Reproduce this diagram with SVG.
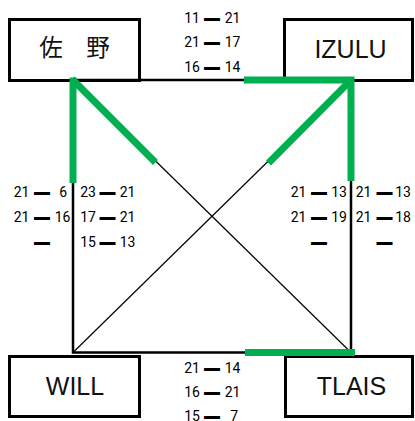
<svg xmlns="http://www.w3.org/2000/svg" width="415" height="421" viewBox="0 0 415 421">
<style>
.box{fill:#fff;stroke:#000;stroke-width:3}
.name{font-family:"Liberation Sans",Arial,sans-serif;font-size:25px;fill:#111;text-anchor:middle}
.cjk{font-family:"Noto Sans CJK JP","Noto Sans CJK SC",sans-serif;font-size:23.5px;fill:#111;text-anchor:middle}
.sc{font-family:Roboto,"Liberation Sans",sans-serif;font-size:14px;fill:#000}
.e{text-anchor:end}
.d{font-family:"Liberation Sans",Arial,sans-serif;font-size:14px;stroke:#000;stroke-width:2;text-anchor:start}
.side{fill:none;stroke:#000;stroke-width:2.5}
.diag{fill:none;stroke:#000;stroke-width:1.2}
.g{fill:none;stroke:#00b050;stroke-width:7;stroke-linejoin:miter}
</style>
<g id="node-sano">
<rect class="box" x="9.5" y="19.5" width="130" height="61"/>
<text class="cjk" x="74.5" y="56">佐　野</text>
</g>
<g id="node-izulu">
<rect class="box" x="284.5" y="19.5" width="128" height="61"/>
<text class="name" x="350.5" y="57.5">IZULU</text>
</g>
<g id="node-will">
<rect class="box" x="9.5" y="356.5" width="130" height="60"/>
<text class="name" x="75" y="395">WILL</text>
</g>
<g id="node-tlais">
<rect class="box" x="285.5" y="356.5" width="127" height="60"/>
<text class="name" x="351.5" y="395">TLAIS</text>
</g>
<g id="connectors">
<path class="side" d="M73,80 H351 V352.5 H73 Z"/>
<line class="diag" x1="73" y1="80" x2="351" y2="352.5"/>
<line class="diag" x1="73" y1="352.5" x2="351" y2="80"/>
<line class="g" x1="73" y1="183" x2="73" y2="77.5"/>
<line class="g" x1="72" y1="79" x2="155.5" y2="162.5"/>
<polyline class="g" points="244,80 351,80 351,181"/>
<line class="g" x1="352" y1="79" x2="268.5" y2="163"/>
<line class="g" x1="245" y1="352.5" x2="355" y2="352.5"/>
</g>
<g id="scores-top" class="sc">
<text y="22.5"><tspan class="e" x="200">11</tspan><tspan class="d" x="205">—</tspan><tspan class="e" x="240.5">21</tspan></text>
<text y="47"><tspan class="e" x="200">21</tspan><tspan class="d" x="205">—</tspan><tspan class="e" x="240.5">17</tspan></text>
<text y="71.5"><tspan class="e" x="200">16</tspan><tspan class="d" x="205">—</tspan><tspan class="e" x="240.5">14</tspan></text>
</g>
<g id="scores-left" class="sc">
<text y="197"><tspan class="e" x="29.5">21</tspan><tspan class="d" x="35">—</tspan><tspan class="e" x="67">6</tspan></text>
<text y="222"><tspan class="e" x="29.5">21</tspan><tspan class="d" x="35">—</tspan><tspan class="e" x="70.5">16</tspan></text>
<text y="246.5"><tspan class="d" x="35">—</tspan></text>
<text y="197"><tspan class="e" x="96">23</tspan><tspan class="d" x="100.5">—</tspan><tspan class="e" x="135.5">21</tspan></text>
<text y="222"><tspan class="e" x="96">17</tspan><tspan class="d" x="100.5">—</tspan><tspan class="e" x="135.5">21</tspan></text>
<text y="246.5"><tspan class="e" x="96">15</tspan><tspan class="d" x="100.5">—</tspan><tspan class="e" x="135.5">13</tspan></text>
</g>
<g id="scores-right" class="sc">
<text y="197"><tspan class="e" x="306.5">21</tspan><tspan class="d" x="312">—</tspan><tspan class="e" x="347">13</tspan></text>
<text y="222"><tspan class="e" x="306.5">21</tspan><tspan class="d" x="312">—</tspan><tspan class="e" x="347">19</tspan></text>
<text y="246.5"><tspan class="d" x="312">—</tspan></text>
<text y="197"><tspan class="e" x="371.5">21</tspan><tspan class="d" x="377.5">—</tspan><tspan class="e" x="411">13</tspan></text>
<text y="222"><tspan class="e" x="371.5">21</tspan><tspan class="d" x="377.5">—</tspan><tspan class="e" x="411">18</tspan></text>
<text y="246.5"><tspan class="d" x="377.5">—</tspan></text>
</g>
<g id="scores-bottom" class="sc">
<text y="372.5"><tspan class="e" x="200">21</tspan><tspan class="d" x="205">—</tspan><tspan class="e" x="240.5">14</tspan></text>
<text y="397"><tspan class="e" x="200">16</tspan><tspan class="d" x="205">—</tspan><tspan class="e" x="240.5">21</tspan></text>
<text y="421"><tspan class="e" x="200">15</tspan><tspan class="d" x="205">—</tspan><tspan class="e" x="238">7</tspan></text>
</g>
</svg>
